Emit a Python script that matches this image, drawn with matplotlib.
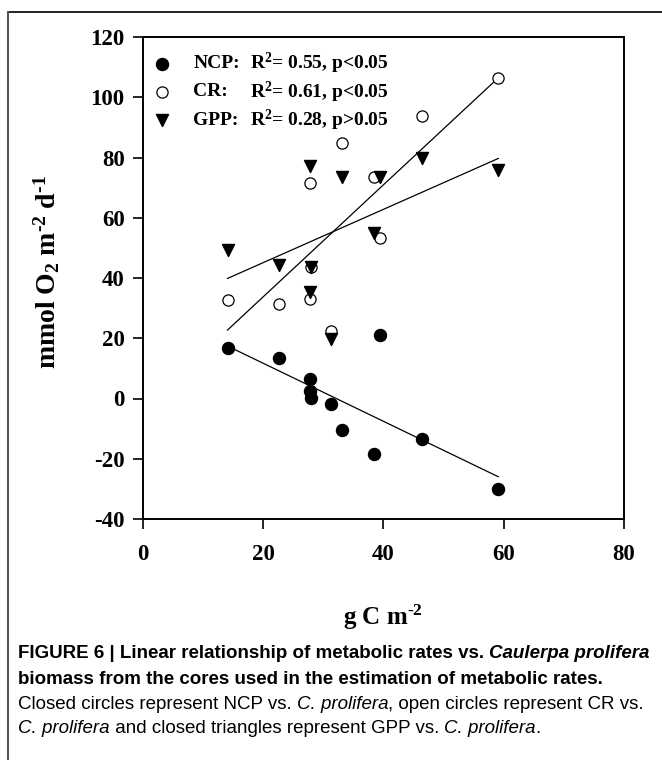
import numpy as np
import matplotlib
matplotlib.use("Agg")
import matplotlib.pyplot as plt
from matplotlib.lines import Line2D

# biomass (g C m-2) of each core, shared by the three series
biomass = [14.1, 22.7, 27.8, 27.8, 27.9, 31.3, 33.1, 38.4, 39.5, 46.4, 59.1]
ncp = [16.9, 13.4, 6.4, 2.6, 0.1, -1.8, -10.5, -18.5, 21.1, -13.5, -30.0]
cr = [32.6, 31.4, 71.5, 33.0, 43.5, 22.4, 84.7, 73.6, 53.2, 93.8, 106.5]
gpp = [49.3, 44.3, 77.3, 35.3, 43.6, 19.8, 73.6, 54.8, 73.4, 79.7, 75.8]

legend_names = ["NCP:", "CR:", "GPP:"]
legend_stats = ["R$^2$= 0.55, p<0.05", "R$^2$= 0.61, p<0.05", "R$^2$= 0.28, p>0.05"]
xticks = [0, 20, 40, 60, 80]
yticks = [-40, -20, 0, 20, 40, 60, 80, 100, 120]

plt.rcParams['font.family'] = 'Liberation Serif'
plt.rcParams['font.weight'] = 'bold'
plt.rcParams['axes.unicode_minus'] = False
plt.rcParams['mathtext.fontset'] = 'custom'
plt.rcParams['mathtext.rm'] = 'Liberation Serif:bold'
plt.rcParams['mathtext.default'] = 'rm'

fig = plt.figure(figsize=(6.62, 7.60), dpi=100)
ax = fig.add_axes([142.7/662, 1-519/760, (624-142.7)/662, (519-37)/760])

x = np.array(biomass)
ax.scatter(x, ncp, s=75, c='black', marker='o', zorder=3)
ax.scatter(x, cr, s=65, facecolors='white', edgecolors='black', linewidths=0.9, marker='o', zorder=3)
ax.scatter(x, gpp, s=75, c='black', marker='v', zorder=3)

xs = np.array([min(biomass), max(biomass)])
for series in (ncp, cr, gpp):
    k, b = np.polyfit(x, series, 1)
    ax.plot(xs, k*xs+b, color='black', lw=0.9, zorder=2)

ax.set_xlim(0, 80)
ax.set_ylim(-40, 120)
ax.set_xticks(xticks)
ax.set_yticks(yticks)
ax.set_yticklabels([str(v) for v in yticks])
ax.set_xticklabels([str(v) for v in xticks])
ax.tick_params(direction='out', length=7, width=1.2, labelsize=16.5, pad=6)
ax.tick_params(axis='x', pad=11)
for s in ax.spines.values():
    s.set_linewidth(1.4)

ax.set_xlabel(r'g C m$^{\text{-}2}$', fontsize=18, fontweight='bold')
ax.xaxis.set_label_coords(0.5, -(603-519)/482)
ax.set_ylabel(r'mmol O$_2$ m$^{\text{-}2}$ d$^{\text{-}1}$', fontsize=20, fontweight='bold')
ax.yaxis.set_label_coords((62-142.7)/481.3, (519-272)/482)

# hand-made legend
leg_y = [0.945, 0.886, 0.827]
ax.scatter([0.0395], [leg_y[0]], s=75, c='black', marker='o', transform=ax.transAxes, clip_on=False)
ax.scatter([0.0395], [leg_y[1]], s=65, facecolors='white', edgecolors='black', linewidths=0.9,
           marker='o', transform=ax.transAxes, clip_on=False)
ax.scatter([0.0395], [leg_y[2]], s=75, c='black', marker='v', transform=ax.transAxes, clip_on=False)
for yy, name, stat in zip(leg_y, legend_names, legend_stats):
    ax.text(0.105, yy, name, transform=ax.transAxes, fontsize=14, fontweight='bold', va='center')
    ax.text(0.222, yy, stat, transform=ax.transAxes, fontsize=14, fontweight='bold', va='center')

# outer frame of the figure panel
fig.add_artist(Line2D([8/662, 1], [1-12/760, 1-12/760], color='black', lw=1.2, transform=fig.transFigure))
fig.add_artist(Line2D([8/662, 8/662], [0, 1-12/760], color='#555555', lw=1.5, transform=fig.transFigure))

cap = ['Liberation Sans Narrow', 'Liberation Sans', 'DejaVu Sans']
fx = 18/662
fig.canvas.draw()
r = fig.canvas.get_renderer()


def put(parts, ybase):
    xpos = fx
    for txt, wt, st in parts:
        t = fig.text(xpos, 1-ybase/760, txt, family=cap, fontsize=13.5, fontweight=wt,
                     fontstyle=st, va='baseline')
        bb = t.get_window_extent(renderer=r)
        xpos = bb.x1/fig.bbox.width


put([('FIGURE 6 | Linear relationship of metabolic rates vs. ', 'bold', 'normal'),
     ('Caulerpa prolifera', 'bold', 'italic')], 658)
put([('biomass from the cores used in the estimation of metabolic rates.', 'bold', 'normal')], 684)
put([('Closed circles represent NCP vs. ', 'normal', 'normal'), ('C. prolifera', 'normal', 'italic'),
     (', open circles represent CR vs.', 'normal', 'normal')], 709)
put([('C. prolifera', 'normal', 'italic'), (' and closed triangles represent GPP vs. ', 'normal', 'normal'),
     ('C. prolifera', 'normal', 'italic'), ('.', 'normal', 'normal')], 733)

fig.savefig('out.png', dpi=100)
